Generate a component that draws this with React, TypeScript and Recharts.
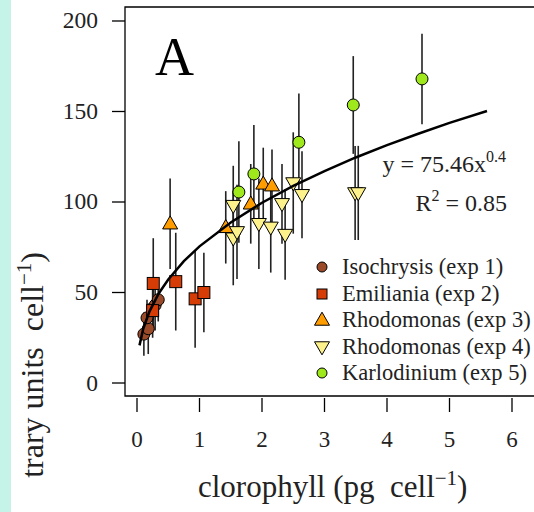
import React from 'react';
import {
  ComposedChart,
  Scatter,
  XAxis,
  YAxis,
  ErrorBar,
  ReferenceArea,
  Legend,
} from 'recharts';

const FONT = '"Liberation Serif", "Times New Roman", serif';

// Isochrysis (exp 1)
const isoX = [0.11, 0.18, 0.16, 0.29, 0.34];
const isoY = [27, 30, 36, 43, 46];
const isoSd = [12, 14, 10, 14, 12];

// Emiliania (exp 2)
const emiX = [0.25, 0.26, 0.62, 0.93, 1.07];
const emiY = [40, 55, 56, 46.5, 50];
const emiSd = [15, 25, 27, 27, 22];

// Rhodomonas (exp 3)
const rh3X = [0.53, 1.42, 1.82, 2.02, 2.16];
const rh3Y = [88, 86, 99, 110, 109];
const rh3Sd = [25, 20, 22, 20, 20];

// Rhodomonas (exp 4)
const rh4X = [1.54, 1.54, 1.6, 1.95, 2.14, 2.32, 2.37, 2.5, 2.64, 3.49, 3.54];
const rh4Y = [98, 80, 83.5, 88, 86, 99, 82, 110.5, 104, 105, 105];
const rh4Sd = [22, 26, 26, 25, 25, 22, 25, 28, 24, 26, 26];

// Karlodinium (exp 5)
const karX = [1.63, 1.87, 2.59, 3.46, 4.56];
const karY = [105.5, 115.5, 133, 153.6, 168];
const karSd = [28, 27, 27, 27, 25];

// fitted curve
const fitX = [0.04, 0.1, 0.2, 0.35, 0.5, 0.75, 1, 1.5, 2, 2.5, 3, 3.5, 4, 4.5, 5, 5.6];
const fitY = [20.8, 30, 39.6, 49.6, 57.2, 67.3, 75.5, 88.7, 99.6, 108.9, 117.1, 124.6, 131.4, 137.7, 143.7, 150.3];

const xTicks = [0, 1, 2, 3, 4, 5, 6];
const yTicks = [0, 50, 100, 150, 200];

const xDomain = [-0.192, 6.768];
const yDomain = [-7.18, 207.73];

const toPoints = (xs: number[], ys: number[], sd: number[]) =>
  xs.map((x, i) => ({ x, y: ys[i], err: sd[i] }));

const fitData = fitX.map((x, i) => ({ x, y: fitY[i] }));

const COLORS = {
  iso: '#9a4a28',
  emi: '#d63c06',
  rh3: '#ff9c00',
  rh4: '#fdf18c',
  kar: '#9fe81c',
};

type Kind = 'circle' | 'square' | 'up' | 'down';

const marker = (kind: Kind, cx: number, cy: number, s: number, fill: string) => {
  const common = { fill, stroke: '#000', strokeWidth: 1 };
  if (kind === 'circle') return <circle cx={cx} cy={cy} r={s * 0.5} {...common} />;
  if (kind === 'square')
    return <rect x={cx - s / 2} y={cy - s / 2} width={s} height={s} {...common} />;
  const h = s * 0.87;
  if (kind === 'up')
    return (
      <polygon
        points={`${cx},${cy - h * 0.6} ${cx - s / 2},${cy + h * 0.4} ${cx + s / 2},${cy + h * 0.4}`}
        {...common}
      />
    );
  return (
    <polygon
      points={`${cx - s / 2},${cy - h * 0.4} ${cx + s / 2},${cy - h * 0.4} ${cx},${cy + h * 0.6}`}
      {...common}
    />
  );
};

const shapeOf = (kind: Kind, s: number, fill: string) => (p: any) =>
  <g>{marker(kind, p.cx, p.cy, s, fill)}</g>;

const legendItems: { name: string; kind: Kind; fill: string; s: number }[] = [
  { name: 'Isochrysis (exp 1)', kind: 'circle', fill: COLORS.iso, s: 10 },
  { name: 'Emiliania (exp 2)', kind: 'square', fill: COLORS.emi, s: 10 },
  { name: 'Rhodomonas (exp 3)', kind: 'up', fill: COLORS.rh3, s: 15 },
  { name: 'Rhodomonas (exp 4)', kind: 'down', fill: COLORS.rh4, s: 15 },
  { name: 'Karlodinium (exp 5)', kind: 'circle', fill: COLORS.kar, s: 10 },
];

const LegendBox = () => (
  <div style={{ fontFamily: FONT, fontSize: 22.5, color: '#222' }}>
    {legendItems.map((it) => (
      <div key={it.name} style={{ display: 'flex', alignItems: 'center', height: 26.5 }}>
        <svg width={20} height={20} style={{ flex: 'none' }}>
          {marker(it.kind, 10, 10, it.s, it.fill)}
        </svg>
        <span style={{ marginLeft: 10, whiteSpace: 'nowrap' }}>{it.name}</span>
      </div>
    ))}
  </div>
);

const XTick = (props: any) => {
  const { x, y, payload } = props;
  return (
    <g>
      <line x1={x} x2={x} y1={y + 2} y2={y + 16} stroke="#000" strokeWidth={1.3} />
      <text x={x} y={y + 51} textAnchor="middle" fontSize={23} fontFamily={FONT} fill="#222">
        {payload.value}
      </text>
    </g>
  );
};

const YTick = (props: any) => {
  const { x, y, payload } = props;
  return (
    <g>
      <line x1={x - 13} x2={x} y1={y} y2={y} stroke="#000" strokeWidth={1.3} />
      <text x={x - 27} y={y + 7.5} textAnchor="end" fontSize={23.5} fontFamily={FONT} fill="#222">
        {payload.value}
      </text>
    </g>
  );
};

const errProps = { dataKey: 'err', direction: 'y' as const, width: 0, stroke: '#222', strokeWidth: 1.6 };

export default function App() {
  return (
    <div
      style={{
        position: 'absolute',
        left: 0,
        top: 0,
        width: 534,
        height: 512,
        overflow: 'hidden',
        background: '#fff',
      }}
    >
      <ComposedChart width={560} height={512} margin={{ top: 7, right: 0, bottom: 0, left: 0 }}>
        <ReferenceArea
          x1={xDomain[0]}
          x2={xDomain[1]}
          y1={yDomain[0]}
          y2={yDomain[1]}
          fill="none"
          stroke="#000"
          strokeWidth={1.3}
        />
        <XAxis
          type="number"
          dataKey="x"
          domain={xDomain}
          ticks={xTicks}
          allowDataOverflow
          height={116}
          axisLine={false}
          tickLine={false}
          tickSize={0}
          tickMargin={0}
          tick={<XTick />}
        />
        <YAxis
          type="number"
          dataKey="y"
          domain={yDomain}
          ticks={yTicks}
          allowDataOverflow
          width={125}
          axisLine={false}
          tickLine={false}
          tickSize={0}
          tickMargin={0}
          tick={<YTick />}
        />
        <Legend
          layout="vertical"
          align="center"
          verticalAlign="middle"
          wrapperStyle={{ left: 312, top: 254, width: 222 }}
          content={<LegendBox />}
        />
        <Scatter name="Isochrysis (exp 1)" data={toPoints(isoX, isoY, isoSd)} shape={shapeOf('circle', 12, COLORS.iso)} isAnimationActive={false}>
          <ErrorBar {...errProps} />
        </Scatter>
        <Scatter name="Emiliania (exp 2)" data={toPoints(emiX, emiY, emiSd)} shape={shapeOf('square', 12, COLORS.emi)} isAnimationActive={false}>
          <ErrorBar {...errProps} />
        </Scatter>
        <Scatter name="Rhodomonas (exp 3)" data={toPoints(rh3X, rh3Y, rh3Sd)} shape={shapeOf('up', 15, COLORS.rh3)} isAnimationActive={false}>
          <ErrorBar {...errProps} />
        </Scatter>
        <Scatter name="Rhodomonas (exp 4)" data={toPoints(rh4X, rh4Y, rh4Sd)} shape={shapeOf('down', 15, COLORS.rh4)} isAnimationActive={false}>
          <ErrorBar {...errProps} />
        </Scatter>
        <Scatter name="Karlodinium (exp 5)" data={toPoints(karX, karY, karSd)} shape={shapeOf('circle', 12, COLORS.kar)} isAnimationActive={false}>
          <ErrorBar {...errProps} />
        </Scatter>
        <Scatter
          name="fit"
          data={fitData}
          line={{ stroke: '#000', strokeWidth: 2.5 }}
          lineType="joint"
          shape={() => <g />}
          legendType="none"
          isAnimationActive={false}
        />
      </ComposedChart>

      <svg
        width={534}
        height={512}
        style={{ position: 'absolute', left: 0, top: 0, pointerEvents: 'none' }}
        fontFamily={FONT}
      >
        <rect x={0} y={0} width={11} height={512} fill="#c6f3e7" />
        <text x={155} y={75} fontSize={54} fill="#000">
          A
        </text>
        <text x={506} y={172} fontSize={24} textAnchor="end" fill="#222">
          y = 75.46x
          <tspan fontSize={16} dy={-10}>
            0.4
          </tspan>
        </text>
        <text x={507} y={211} fontSize={24} textAnchor="end" fill="#222">
          R
          <tspan fontSize={16} dy={-10}>
            2
          </tspan>
          <tspan dy={10}> = 0.85</tspan>
        </text>
        <text x={198} y={497} fontSize={31} fill="#222">
          {'clorophyll (pg\u00a0\u00a0cell'}
          <tspan fontSize={21} dy={-12}>
            −1
          </tspan>
          <tspan dy={12}>)</tspan>
        </text>
        <text transform="translate(43,252) rotate(-90)" fontSize={32} textAnchor="end" fill="#222">
          {'trary units\u00a0\u00a0cell'}
          <tspan fontSize={21} dy={-12}>
            −1
          </tspan>
          <tspan dy={12}>)</tspan>
        </text>
      </svg>
    </div>
  );
}
